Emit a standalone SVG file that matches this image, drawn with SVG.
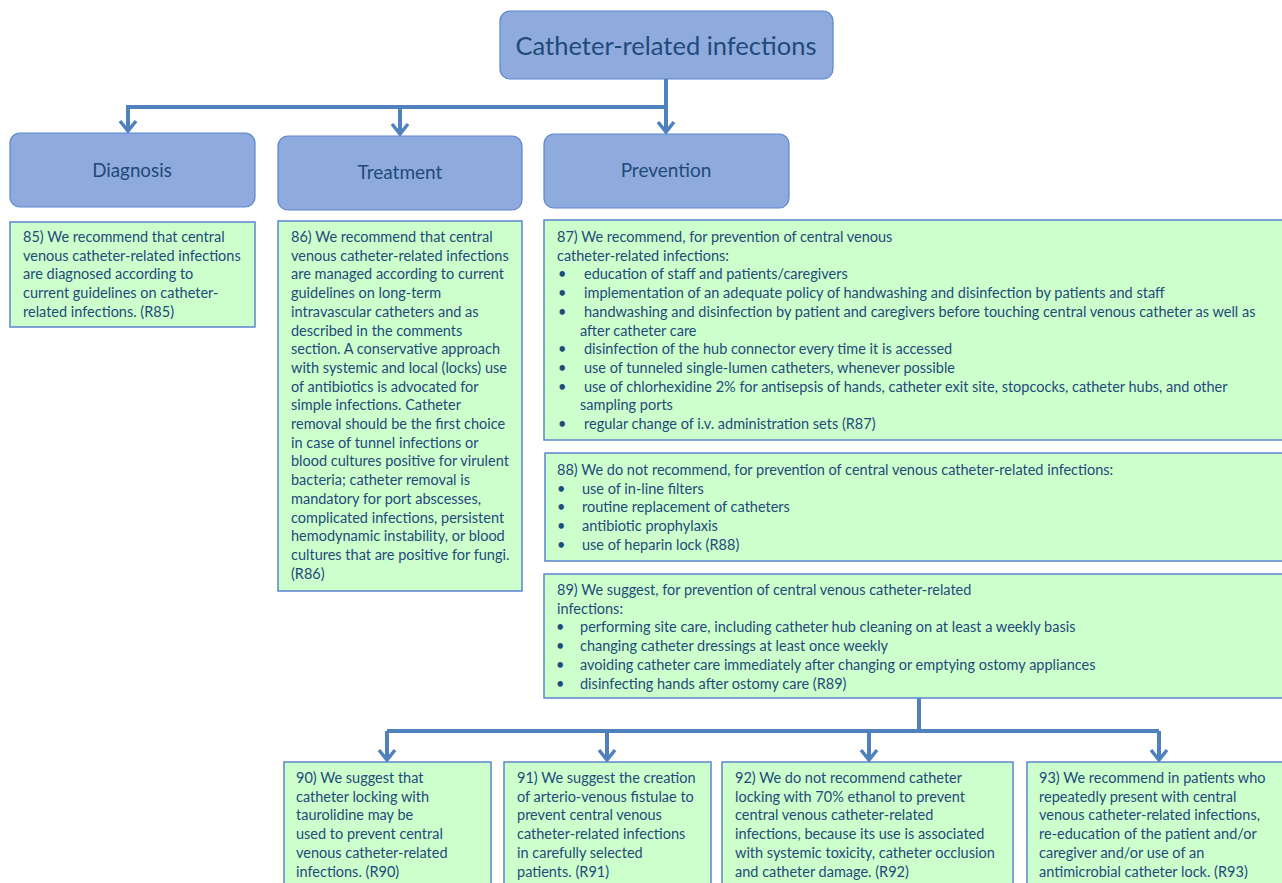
<svg xmlns="http://www.w3.org/2000/svg" width="1282" height="883" viewBox="0 0 1282 883">
<defs>
<style>
.hdr{fill:#8FAADC;stroke:#5B86CF;stroke-width:1.2}
.box{fill:#CCFFCC;stroke:#5B86CF;stroke-width:1.5}
.ht{font-family:Lato,"Liberation Sans",sans-serif;fill:#1F4A7A;text-anchor:middle}
.t{font-family:Lato,"Liberation Sans",sans-serif;fill:#1F4A7A;font-size:14.5px}
.s{font-family:Lato,"Liberation Sans",sans-serif;fill:#1F4A7A;font-size:14.5px}
.con{fill:none;stroke:#4F81BD;stroke-width:4}
</style>
<marker id="arr" viewBox="-12 -10 14 20" refX="0" refY="0" markerWidth="14" markerHeight="20" markerUnits="userSpaceOnUse" orient="auto">
<path d="M-10,-8 L0,0 L-10,8" fill="none" stroke="#4F81BD" stroke-width="3.5"/>
</marker>
</defs>
<rect width="1282" height="883" fill="#FFFFFF"/>

<g id="connectors">
<path class="con" d="M666,79 V107"/>
<path class="con" d="M666,107 H128 V131" marker-end="url(#arr)"/>
<path class="con" d="M400,107 V134" marker-end="url(#arr)"/>
<path class="con" d="M666,107 V132" marker-end="url(#arr)"/>
<path class="con" d="M919,698 V731"/>
<path class="con" d="M387,731 H1159"/>
<path class="con" d="M387,731 V760" marker-end="url(#arr)"/>
<path class="con" d="M607,731 V760" marker-end="url(#arr)"/>
<path class="con" d="M869,731 V760" marker-end="url(#arr)"/>
<path class="con" d="M1159,731 V760" marker-end="url(#arr)"/>
</g>

<g id="root">
<rect class="hdr" x="500" y="11" width="333" height="68" rx="10"/>
<text class="ht" x="666" y="55" font-size="25.5">Catheter-related infections</text>
</g>

<g id="diagnosis">
<rect class="hdr" x="10" y="133" width="245" height="74" rx="10"/>
<text class="ht" x="132" y="177" font-size="18.8">Diagnosis</text>
</g>

<g id="treatment">
<rect class="hdr" x="278" y="136" width="244" height="74" rx="10"/>
<text class="ht" x="400" y="179" font-size="19">Treatment</text>
</g>

<g id="prevention">
<rect class="hdr" x="544" y="134" width="245" height="74" rx="10"/>
<text class="ht" x="666" y="177" font-size="19">Prevention</text>
</g>

<g id="r85">
<rect class="box" x="10" y="222" width="245" height="105"/>
<text class="t">
<tspan x="23" y="242">85) We recommend that central</tspan>
<tspan x="23" y="260.7">venous catheter-related infections</tspan>
<tspan x="23" y="279.4">are diagnosed according to</tspan>
<tspan x="23" y="298.1">current guidelines on catheter-</tspan>
<tspan x="23" y="316.8">related infections. (R85)</tspan>
</text>
</g>

<g id="r86">
<rect class="box" x="278" y="221" width="244" height="370"/>
<text class="t">
<tspan x="291" y="242">86) We recommend that central</tspan>
<tspan x="291" y="260.7">venous catheter-related infections</tspan>
<tspan x="291" y="279.4">are managed according to current</tspan>
<tspan x="291" y="298.1">guidelines on long-term</tspan>
<tspan x="291" y="316.8">intravascular catheters and as</tspan>
<tspan x="291" y="335.5">described in the comments</tspan>
<tspan x="291" y="354.2">section. A conservative approach</tspan>
<tspan x="291" y="372.9">with systemic and local (locks) use</tspan>
<tspan x="291" y="391.6">of antibiotics is advocated for</tspan>
<tspan x="291" y="410.3">simple infections. Catheter</tspan>
<tspan x="291" y="429">removal should be the first choice</tspan>
<tspan x="291" y="447.7">in case of tunnel infections or</tspan>
<tspan x="291" y="466.4">blood cultures positive for virulent</tspan>
<tspan x="291" y="485.1">bacteria; catheter removal is</tspan>
<tspan x="291" y="503.8">mandatory for port abscesses,</tspan>
<tspan x="291" y="522.5">complicated infections, persistent</tspan>
<tspan x="291" y="541.2">hemodynamic instability, or blood</tspan>
<tspan x="291" y="559.9">cultures that are positive for fungi.</tspan>
<tspan x="291" y="578.6">(R86)</tspan>
</text>
</g>

<g id="r87">
<rect class="box" x="544" y="220" width="746" height="220"/>
<text class="s">
<tspan x="557" y="242">87) We recommend, for prevention of central venous</tspan>
<tspan x="557" y="260.7">catheter-related infections:</tspan>
<tspan x="558" y="279.4">•</tspan><tspan x="584" y="279.4">education of staff and patients/caregivers</tspan>
<tspan x="558" y="298.1">•</tspan><tspan x="584" y="298.1">implementation of an adequate policy of handwashing and disinfection by patients and staff</tspan>
<tspan x="558" y="316.8">•</tspan><tspan x="584" y="316.8">handwashing and disinfection by patient and caregivers before touching central venous catheter as well as</tspan>
<tspan x="580" y="335.5">after catheter care</tspan>
<tspan x="558" y="354.2">•</tspan><tspan x="584" y="354.2">disinfection of the hub connector every time it is accessed</tspan>
<tspan x="558" y="372.9">•</tspan><tspan x="584" y="372.9">use of tunneled single-lumen catheters, whenever possible</tspan>
<tspan x="558" y="391.6">•</tspan><tspan x="584" y="391.6">use of chlorhexidine 2% for antisepsis of hands, catheter exit site, stopcocks, catheter hubs, and other</tspan>
<tspan x="580" y="410.3">sampling ports</tspan>
<tspan x="558" y="429">•</tspan><tspan x="584" y="429">regular change of i.v. administration sets (R87)</tspan>
</text>
</g>

<g id="r88">
<rect class="box" x="545" y="453" width="745" height="108"/>
<text class="s">
<tspan x="557" y="475">88) We do not recommend, for prevention of central venous catheter-related infections:</tspan>
<tspan x="557" y="493.7">•</tspan><tspan x="582" y="493.7">use of in-line filters</tspan>
<tspan x="557" y="512.4">•</tspan><tspan x="582" y="512.4">routine replacement of catheters</tspan>
<tspan x="557" y="531.1">•</tspan><tspan x="582" y="531.1">antibiotic prophylaxis</tspan>
<tspan x="557" y="549.8">•</tspan><tspan x="582" y="549.8">use of heparin lock (R88)</tspan>
</text>
</g>

<g id="r89">
<rect class="box" x="544" y="574" width="746" height="124"/>
<text class="s">
<tspan x="557" y="595">89) We suggest, for prevention of central venous catheter-related</tspan>
<tspan x="557" y="613.7">infections:</tspan>
<tspan x="556" y="632.4">•</tspan><tspan x="580" y="632.4">performing site care, including catheter hub cleaning on at least a weekly basis</tspan>
<tspan x="556" y="651.1">•</tspan><tspan x="580" y="651.1">changing catheter dressings at least once weekly</tspan>
<tspan x="556" y="669.8">•</tspan><tspan x="580" y="669.8">avoiding catheter care immediately after changing or emptying ostomy appliances</tspan>
<tspan x="556" y="688.5">•</tspan><tspan x="580" y="688.5">disinfecting hands after ostomy care (R89)</tspan>
</text>
</g>

<g id="r90">
<rect class="box" x="284" y="762" width="207" height="130"/>
<text class="t">
<tspan x="296" y="783">90) We suggest that</tspan>
<tspan x="296" y="801.7">catheter locking with</tspan>
<tspan x="296" y="820.4">taurolidine may be</tspan>
<tspan x="296" y="839.1">used to prevent central</tspan>
<tspan x="296" y="857.8">venous catheter-related</tspan>
<tspan x="296" y="876.5">infections. (R90)</tspan>
</text>
</g>

<g id="r91">
<rect class="box" x="504" y="762" width="207" height="130"/>
<text class="t">
<tspan x="517" y="783">91) We suggest the creation</tspan>
<tspan x="517" y="801.7">of arterio-venous fistulae to</tspan>
<tspan x="517" y="820.4">prevent central venous</tspan>
<tspan x="517" y="839.1">catheter-related infections</tspan>
<tspan x="517" y="857.8">in carefully selected</tspan>
<tspan x="517" y="876.5">patients. (R91)</tspan>
</text>
</g>

<g id="r92">
<rect class="box" x="722" y="762" width="291" height="130"/>
<text class="t">
<tspan x="735" y="783">92) We do not recommend catheter</tspan>
<tspan x="735" y="801.7">locking with 70% ethanol to prevent</tspan>
<tspan x="735" y="820.4">central venous catheter-related</tspan>
<tspan x="735" y="839.1">infections, because its use is associated</tspan>
<tspan x="735" y="857.8">with systemic toxicity, catheter occlusion</tspan>
<tspan x="735" y="876.5">and catheter damage. (R92)</tspan>
</text>
</g>

<g id="r93">
<rect class="box" x="1027" y="762" width="263" height="130"/>
<text class="t">
<tspan x="1039" y="783">93) We recommend in patients who</tspan>
<tspan x="1039" y="801.7">repeatedly present with central</tspan>
<tspan x="1039" y="820.4">venous catheter-related infections,</tspan>
<tspan x="1039" y="839.1">re-education of the patient and/or</tspan>
<tspan x="1039" y="857.8">caregiver and/or use of an</tspan>
<tspan x="1039" y="876.5">antimicrobial catheter lock. (R93)</tspan>
</text>
</g>
</svg>
